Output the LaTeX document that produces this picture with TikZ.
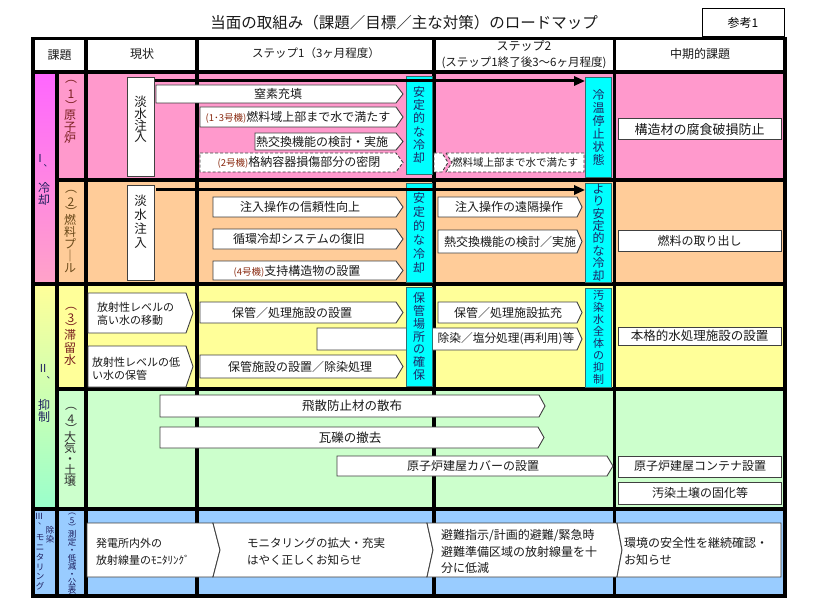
\documentclass[tikz,border=0pt]{standalone}
\usepackage{fontspec}
\setmainfont{Noto Sans CJK JP}
\usetikzlibrary{arrows.meta}
\definecolor{rowA}{HTML}{FF99CC}
\definecolor{rowB}{HTML}{FFCC99}
\definecolor{rowC}{HTML}{FFFF99}
\definecolor{rowD}{HTML}{CCFFCC}
\definecolor{rowE}{HTML}{99CCFF}
\definecolor{cyanfill}{HTML}{00FFFF}
\definecolor{cyanline}{HTML}{2F6F6F}
\definecolor{cyantext}{HTML}{1A2A6A}
\definecolor{catA}{HTML}{FF66FF}
\definecolor{catA2}{HTML}{FFA3C8}
\definecolor{catB}{HTML}{FFFF99}
\definecolor{catB2}{HTML}{99FFCC}
\definecolor{brownred}{HTML}{8A2A10}
\definecolor{subA}{HTML}{7A1F1F}
\definecolor{subB}{HTML}{6B4A1A}
\definecolor{subD}{HTML}{333333}
\definecolor{subE}{HTML}{1A1A5A}
\definecolor{cattext}{HTML}{1F1F5F}
\definecolor{txt}{HTML}{1A1A1A}
\definecolor{edge}{HTML}{404040}
\newcommand\vfont[2]{\fontsize{#1}{#2}\selectfont\lineskiplimit=-50pt\lineskip=0pt\relax}
\newcommand\penta[6][arrowbox]{\path[#1] (#2,#3) -- ({#4-#6},#3) -- (#4,{(#3+#5)/2}) -- ({#4-#6},#5) -- (#2,#5) -- cycle;}
\newcommand\sm[1]{{\fontsize{9.5}{10}\selectfont\color{brownred}#1}}
\tikzset{
 grid/.style={line width=3.5pt},
 arrowbox/.style={fill=white, draw=edge, line width=0.9pt, line join=miter},
 dashbox/.style={fill=white, draw=edge, line width=0.9pt, dash pattern=on 3pt off 2pt},
 lbl/.style={inner sep=0pt, font=\vfont{12}{14}, text=txt},
 vt/.style={inner sep=0pt, align=center, text=txt},
 cbox/.style={fill=cyanfill, draw=cyanline, line width=0.8pt, inner sep=0pt, minimum width=26pt, align=center, text=cyantext},
 midbox/.style={fill=white, draw=edge, line width=1pt, inner sep=0pt, minimum width=163pt, font=\vfont{12}{14}, text=txt},
 wbox/.style={fill=white, draw=edge, line width=0.9pt, inner sep=0pt, minimum width=27pt},
 bigarrow/.style={line width=3pt, -{Triangle[length=11pt,width=9pt]}},
}
\begin{document}
\begin{tikzpicture}[x=1pt,y=-1pt]
\useasboundingbox (0,0) rectangle (826,612);
\fill[white] (0,0) rectangle (826,612);
% row fills
\fill[rowA] (33,72) rectangle (785,180);
\fill[rowB] (33,180) rectangle (785,284);
\fill[rowC] (33,284) rectangle (785,389);
\fill[rowD] (33,389) rectangle (785,509);
\fill[rowE] (33,509) rectangle (785,596);
\shade[top color=catA, bottom color=catA2] (33,72) rectangle (57,284);
\shade[top color=catB, bottom color=catB2] (33,284) rectangle (57,509);
% grid
\draw[grid] (33,72) -- (785,72);
\draw[grid] (57,180) -- (785,180);
\draw[grid] (33,284) -- (785,284);
\draw[grid] (57,389) -- (785,389);
\draw[grid] (33,509) -- (785,509);
\draw[grid] (57,72) -- (57,596);
\draw[grid] (86,38.5) -- (86,596);
\draw[grid] (197,38.5) -- (197,596);
\draw[grid] (434,38.5) -- (434,596);
\draw[grid] (614.5,38.5) -- (614.5,596);
\draw[grid] (33,38.5) rectangle (785,596);

% title
\node[inner sep=0pt, font=\vfont{15.5}{18}, text=txt] (title) at (404,23) {当面の取組み（課題／目標／主な対策）のロードマップ};
\node[draw, line width=1pt, minimum width=82pt, minimum height=28pt, inner sep=0pt, font=\vfont{12}{14}] (ref) at (743,23) {参考1};

% header
\node[lbl] (h1) at (59.5,55) {課題};
\node[lbl] (h2) at (142,54) {現状};
\node[lbl, font=\vfont{11.5}{14}] (h3) at (316,53) {ステップ1（3ヶ月程度）};
\node[lbl] (h4) at (524,46) {ステップ2};
\node[lbl, font=\vfont{11.5}{14}] (h4b) at (524,63) {(ステップ1終了後3～6ヶ月程度)};
\node[lbl] (h5) at (700,54) {中期的課題};

% category column
\node[vt, font=\vfont{11}{12}, text=cattext] (c1a) at (40,158) {Ⅰ};
\node[vt, font=\vfont{9}{10}, text=cattext] (c1b) at (48,166) {、};
\node[vt, font=\vfont{12}{12}, text=cattext] (c1c) at (44,194) {冷\\却};
\node[vt, font=\vfont{11}{12}, text=cattext] (c2a) at (43,368) {Ⅱ};
\node[vt, font=\vfont{9}{10}, text=cattext] (c2b) at (51,378) {、};
\node[vt, font=\vfont{12}{12}, text=cattext] (c2c) at (44,411) {抑\\制};
\node[vt, font=\vfont{8.5}{9}, text=cattext] (c3a) at (39,516) {Ⅲ};
\node[vt, font=\vfont{8}{9}, text=cattext] (c3b) at (42,524) {、};
\node[vt, font=\vfont{8.5}{9.8}, text=cattext] (c3c) at (40,562.5) {モ\\ニ\\タ\\リ\\ン\\グ};
\node[vt, font=\vfont{8.5}{8.5}, text=cattext] (c3d) at (50,535) {除\\染};

% sub column
\node[vt, font=\vfont{12}{12}, text=subA] (s1o) at (71,82) {︵};
\node[vt, font=\vfont{12}{12}, text=subA] (s1n) at (71,94) {1};
\node[vt, font=\vfont{12}{12}, text=subA] (s1c) at (71,105) {︶};
\node[vt, font=\vfont{12}{11.5}, text=subA] (s1k) at (70,127) {原\\子\\炉};
\node[vt, font=\vfont{12}{12}, text=subB] (s2o) at (71,192) {︵};
\node[vt, font=\vfont{12}{12}, text=subB] (s2n) at (71,202) {2};
\node[vt, font=\vfont{12}{12}, text=subB] (s2c) at (71,211) {︶};
\node[vt, font=\vfont{12}{12}, text=subB] (s2k) at (70,244) {燃\\料\\プ\\｜\\ル};
\node[vt, font=\vfont{12}{12}, text=subA] (s3o) at (71,309) {︵};
\node[vt, font=\vfont{12}{12}, text=subA] (s3n) at (71,318) {3};
\node[vt, font=\vfont{12}{12}, text=subA] (s3c) at (71,327) {︶};
\node[vt, font=\vfont{12}{12.5}, text=subA] (s3k) at (70,347.5) {滞\\留\\水};
\node[vt, font=\vfont{12}{12}, text=subD] (s4o) at (71,409) {︵};
\node[vt, font=\vfont{12}{12}, text=subD] (s4n) at (71,419) {4};
\node[vt, font=\vfont{12}{12}, text=subD] (s4c) at (71,428) {︶};
\node[vt, font=\vfont{12}{11}, text=subD] (s4k) at (70,459) {大\\気\\・\\土\\壌};
\node[vt, font=\vfont{8}{8}, text=subE] (s5o) at (72,514) {︵};
\node[vt, font=\vfont{8}{8}, text=subE] (s5n) at (72,520.5) {5};
\node[vt, font=\vfont{8}{8}, text=subE] (s5c) at (72,527) {︶};
\node[vt, font=\vfont{8.5}{8}, text=subE] (s5k) at (72,562) {測\\定\\・\\低\\減\\・\\公\\表};

% status column boxes
\node[wbox, minimum height=99pt] (tan1) at (140.5,126.5) {};
\node[vt, font=\vfont{12.5}{11.7}] (tan1t) at (140.5,119.5) {淡\\水\\注\\入};
\node[wbox, minimum height=95pt] (tan2) at (140.5,232.5) {};
\node[vt, font=\vfont{12.5}{14}] (tan2t) at (140.5,221.5) {淡\\水\\注\\入};

% row 1 arrows
\penta{156}{85}{403}{103}{7}
\node[lbl] (a1) at (278,94) {窒素充填};
\penta{200}{107}{403}{127}{7}
\node[lbl] (a2) at (298,117) {\sm{(1･3号機)}燃料域上部まで水で満たす};
\penta{255}{133}{403}{150}{7}
\node[lbl] (a3) at (322,142) {熱交換機能の検討・実施};
\penta[dashbox]{200}{153}{403}{172}{7}
\node[lbl] (a4) at (299,162.5) {\sm{(2号機)}格納容器損傷部分の密閉};
\penta[dashbox]{434}{153}{448}{172}{6}
\path[dashbox] (446,153) -- (584,153) -- (584,172) -- (446,172) -- (452,162.5) -- cycle;
\node[lbl, font=\vfont{10.5}{12}] (a5) at (515,162.5) {燃料域上部まで水で満たす};

% row 2 arrows
\penta{213}{197}{403}{217}{7}
\node[lbl] (b1) at (300,207) {注入操作の信頼性向上};
\penta{213}{229}{403}{249}{7}
\node[lbl] (b2) at (299,239) {循環冷却システムの復旧};
\penta{213}{261}{403}{280}{7}
\node[lbl] (b3) at (297,271) {\sm{(4号機)}支持構造物の設置};
\penta{438}{197}{582}{217}{5}
\node[lbl] (b4) at (509,207) {注入操作の遠隔操作};
\penta{438}{230}{582}{253}{5}
\node[lbl] (b5) at (510,241.5) {熱交換機能の検討／実施};

% row 3 arrows
\penta{88}{293}{193}{333}{7}
\node[lbl, font=\vfont{11}{13}, anchor=west, align=left] (c1) at (97,313.5) {放射性レベルの\\高い水の移動};
\penta{88}{346}{193}{387}{7}
\node[lbl, font=\vfont{11}{13.5}, anchor=west, align=left] (c2) at (92,369) {放射性レベルの低\\い水の保管};
\penta{200}{302}{403}{323}{7}
\node[lbl] (c3) at (292,312.5) {保管／処理施設の設置};
\penta{317}{328}{582}{350}{5}
\node[lbl, font=\vfont{11.7}{14}] (c4) at (506,339) {除染／塩分処理(再利用)等};
\penta{200}{355}{403}{378}{7}
\node[lbl] (c5) at (300,366.5) {保管施設の設置／除染処理};
\penta{438}{302}{582}{323}{5}
\node[lbl] (c6) at (508,312.5) {保管／処理施設拡充};

% row 4 arrows
\penta{160}{395}{545}{417}{6}
\node[lbl, font=\vfont{12.5}{14}] (d1) at (352,406) {飛散防止材の散布};
\penta{160}{427}{544}{448}{6}
\node[lbl, font=\vfont{12.5}{14}] (d2) at (350,437.5) {瓦礫の撤去};
\penta{337}{456}{613}{476}{6}
\node[lbl] (d3) at (473,466) {原子炉建屋カバーの設置};

% row 5 shapes
\path[arrowbox] (87,523) -- (213,523) -- (220,550) -- (213,577) -- (87,577) -- cycle;
\path[arrowbox] (213,523) -- (427,523) -- (433,550) -- (427,577) -- (213,577) -- (220,550) -- cycle;
\path[arrowbox] (427,523) -- (617,523) -- (622,550) -- (617,577) -- (427,577) -- (433,550) -- cycle;
\path[arrowbox] (617,523) -- (781,523) -- (781,577) -- (617,577) -- (622,550) -- cycle;
\node[lbl, font=\vfont{11}{17}, anchor=west, align=left] (e1) at (96,551.5) {発電所内外の\\放射線量のﾓﾆﾀﾘﾝｸﾞ};
\node[lbl, font=\vfont{11.5}{17}, anchor=west, align=left] (e2) at (247,551.5) {モニタリングの拡大・充実\\はやく正しくお知らせ};
\node[lbl, font=\vfont{12}{16.5}, anchor=west, align=left] (e3) at (441,551.5) {避難指示/計画的避難/緊急時\\避難準備区域の放射線量を十\\分に低減};
\node[lbl, font=\vfont{12}{17}, anchor=west, align=left] (e4) at (624,551.5) {環境の安全性を継続確認・\\お知らせ};

% cyan milestone boxes
\node[cbox, minimum height=98pt, font=\vfont{12}{13.2}] (cy1) at (419,125) {安\\定\\的\\な\\冷\\却};
\node[cbox, minimum height=100pt, font=\vfont{12}{13}] (cy2) at (598.5,127) {冷\\温\\停\\止\\状\\態};
\node[cbox, minimum height=99pt, font=\vfont{12}{14}] (cy3) at (419,232.5) {安\\定\\的\\な\\冷\\却};
\node[cbox, minimum height=99pt, font=\vfont{12}{12.4}] (cy4) at (598.5,232.5) {よ\\り\\安\\定\\的\\な\\冷\\却};
\node[cbox, minimum height=99pt, font=\vfont{12}{12.8}] (cy5) at (419,336.5) {保\\管\\場\\所\\の\\確\\保};
\node[cbox, minimum height=99pt, font=\vfont{11}{11.9}] (cy6) at (598.5,337.5) {汚\\染\\水\\全\\体\\の\\抑\\制};

% big arrows
\coordinate (s1) at (155,81);
\coordinate (s2) at (156,190);
\draw[bigarrow] (s1) -- (s1 -| cy2.west);
\draw[bigarrow] (s2) -- (s2 -| cy4.west);

% mid-term boxes
\node[midbox, minimum height=21pt, font=\vfont{13}{14}] (m1) at (699.5,129.5) {構造材の腐食破損防止};
\node[midbox, minimum height=21pt] (m2) at (699.5,240.5) {燃料の取り出し};
\node[midbox, minimum height=18pt, font=\vfont{12.5}{14}] (m3) at (699.5,336) {本格的水処理施設の設置};
\node[midbox, minimum height=21pt] (m4) at (700,466.5) {原子炉建屋コンテナ設置};
\node[midbox, minimum height=22pt] (m5) at (700,493) {汚染土壌の固化等};
\end{tikzpicture}
\end{document}
